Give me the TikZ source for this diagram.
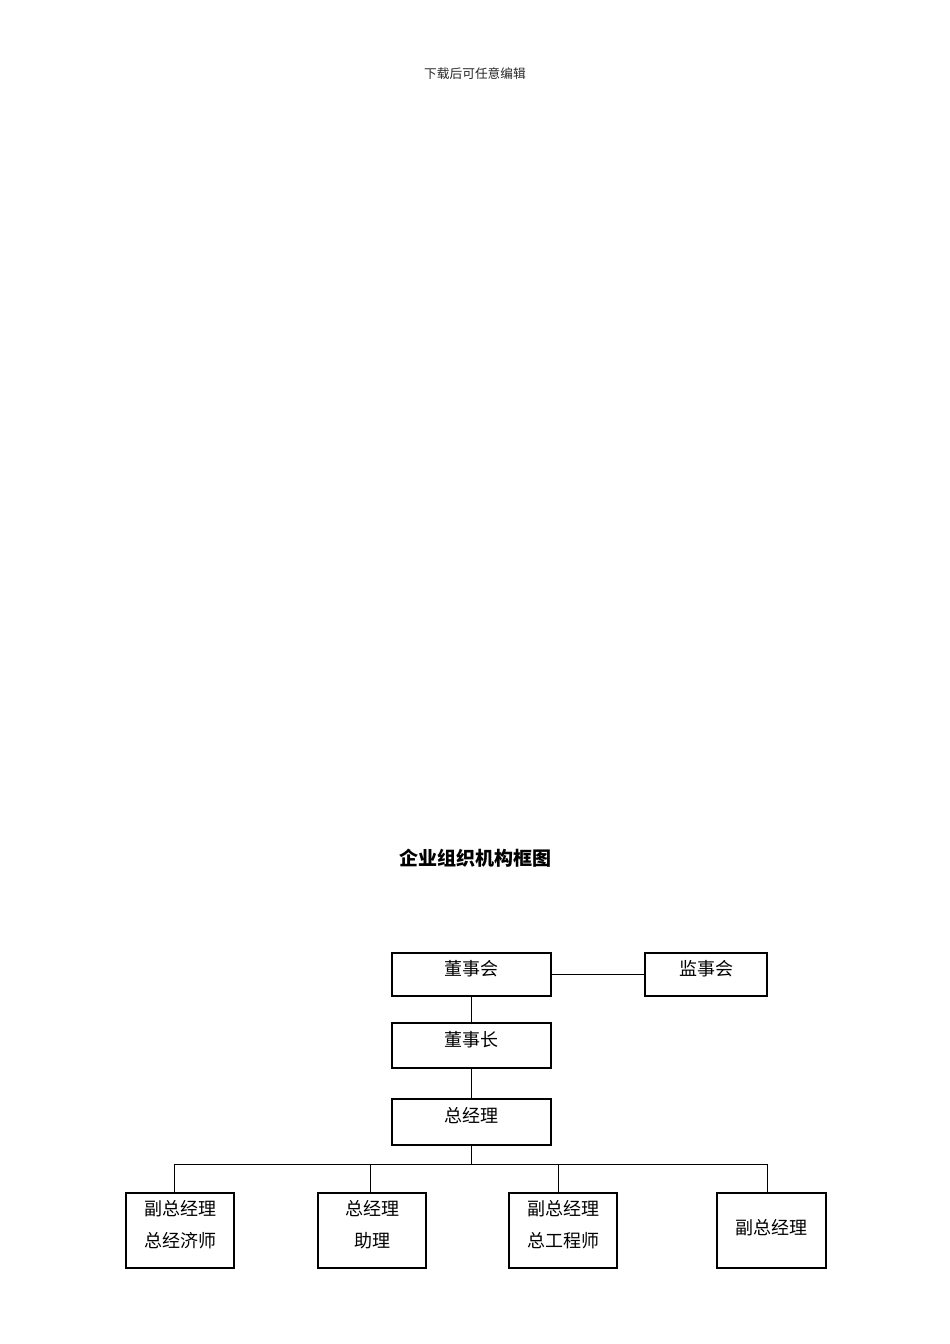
\documentclass[tikz,border=0pt]{standalone}
\usepackage{fontspec}
\newfontfamily\cjk{Noto Sans CJK SC}
\begin{document}
\begin{tikzpicture}[x=1pt,y=-1pt,
  box/.style={draw=black, line width=1.3pt, rectangle, inner sep=0pt},
  txt/.style={font=\cjk\fontsize{18}{18}\selectfont, inner sep=0pt},
  conn/.style={draw=black, line width=1pt}]
\useasboundingbox[fill=white] (0,0) rectangle (950,1344);
% header and title
\node[font=\cjk\fontsize{12.7}{12.7}\selectfont, text=black!85, inner sep=0pt] (hdr) at (475,74) {下载后可任意编辑};
\node[font=\cjk\bfseries\fontsize{19}{19}\selectfont, inner sep=0pt] (title) at (475,858) {企业组织机构框图};
% top boxes
\node[box, minimum width=159, minimum height=43] (dsh) at (471.5,974.5) {};
\node[txt] (dsht) at (471.5,969) {董事会};
\node[box, minimum width=122, minimum height=43] (jsh) at (706,974.5) {};
\node[txt] (jsht) at (706,969) {监事会};
\node[box, minimum width=159, minimum height=45] (dsz) at (471.5,1045.5) {};
\node[txt] (dszt) at (471.5,1040) {董事长};
\node[box, minimum width=159, minimum height=46] (zjl) at (471.5,1122) {};
\node[txt] (zjlt) at (471.5,1116) {总经理};
% bottom boxes
\node[box, minimum width=108, minimum height=75] (b1) at (180,1230.5) {};
\node[txt] (b1a) at (180,1209) {副总经理};
\node[txt] (b1b) at (180,1241) {总经济师};
\node[box, minimum width=108, minimum height=75] (b2) at (372,1230.5) {};
\node[txt] (b2a) at (372,1209) {总经理};
\node[txt] (b2b) at (372,1241) {助理};
\node[box, minimum width=108, minimum height=75] (b3) at (563,1230.5) {};
\node[txt] (b3a) at (563,1209) {副总经理};
\node[txt] (b3b) at (563,1241) {总工程师};
\node[box, minimum width=109, minimum height=75] (b4) at (771.5,1230.5) {};
\node[txt] (b4a) at (771.5,1228) {副总经理};
% connectors
\draw[conn] (dsh.east) -- (jsh.west);
\draw[conn] (dsh.south) -- (dsz.north);
\draw[conn] (dsz.south) -- (zjl.north);
\coordinate (bus) at (471.5,1164);
\coordinate (bl) at (174,1164);
\coordinate (br) at (767,1164);
\draw[conn] (zjl.south) -- (bus);
\draw[conn] (bl) -- (br);
\draw[conn] (bl) -- (bl |- b1.north);
\draw[conn] (370,1164) -- (370,1193);
\draw[conn] (558,1164) -- (558,1193);
\draw[conn] (br) -- (br |- b4.north);
\end{tikzpicture}
\end{document}
